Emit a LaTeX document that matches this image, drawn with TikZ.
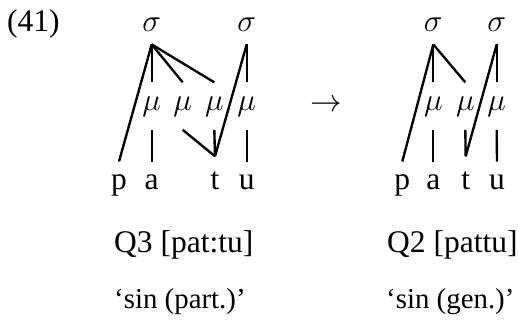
\documentclass[tikz,border=0pt,12pt]{standalone}
\usepackage{fontspec}
\setmainfont{Liberation Serif}
\usetikzlibrary{positioning}

\begin{document}
\begin{tikzpicture}[x=0.381pt, y=-0.381pt, line width=0.9pt,
    syll/.style={anchor=base, inner sep=0pt, text depth=0pt, inner ysep=4.4pt},
    mora/.style={anchor=base, inner sep=0pt, text height=10.2pt, text depth=7pt},
    seg/.style={anchor=base, inner sep=0pt, text height=10.4pt, text depth=0pt},
    lbl/.style={anchor=base west, inner sep=0pt},
    gloss/.style={lbl, font=\fontsize{11pt}{13pt}\selectfont}]
    \useasboundingbox (0,0) rectangle (518,324);

    \node[lbl] (num) at (6,31.7) {(41)};

    % left: Q3 [pat:tu]
    \node[syll] (s1) at (151.7,31.7) {$\sigma$};
    \node[syll] (s2) at (246.7,31.7) {$\sigma$};
    \node[mora] (m1) at (151.7,110.3) {$\mu$};
    \node[mora] (m2) at (182.7,110.3) {$\mu$};
    \node[mora] (m3) at (214.3,110.3) {$\mu$};
    \node[mora] (m4) at (246.7,110.3) {$\mu$};
    \node[seg] (p) at (119,190) {p};
    \node[seg] (a) at (151.7,190) {a};
    \node[seg] (t) at (215,190) {t};
    \node[seg] (u) at (246.7,190) {u};
    \coordinate (tj) at ([yshift=2pt]t.north);

    \draw (s1.south) -- (p.north);
    \draw (s1.south) -- (m1.north);
    \draw (s1.south) -- (m2.north);
    \draw (s1.south) -- (m3.north);
    \draw (s2.south) -- (m4.north);
    \draw (s2.south) -- (tj);
    \draw (m1.south) -- (a.north);
    \draw (m2.south) -- (tj);
    \draw (m3.south) -- (tj);
    \draw (m4.south) -- (u.north);

    \node[anchor=base, inner sep=0pt] (arr) at (326,112) {$\rightarrow$};

    % right: Q2 [pattu]
    \node[syll] (rs1) at (433.3,31.7) {$\sigma$};
    \node[syll] (rs2) at (496.7,31.7) {$\sigma$};
    \node[mora] (rm1) at (433.3,110.3) {$\mu$};
    \node[mora] (rm2) at (465.3,110.3) {$\mu$};
    \node[mora] (rm3) at (496.7,110.3) {$\mu$};
    \node[seg] (rp) at (402.3,190) {p};
    \node[seg] (ra) at (433.3,190) {a};
    \node[seg] (rt) at (465.7,190) {t};
    \node[seg] (ru) at (497,190) {u};
    \coordinate (rtj) at ([yshift=2pt]rt.north);

    \draw (rs1.south) -- (rp.north);
    \draw (rs1.south) -- (rm1.north);
    \draw (rs1.south) -- (rm2.north);
    \draw (rs2.south) -- (rm3.north);
    \draw (rs2.south) -- (rtj);
    \draw (rm1.south) -- (ra.north);
    \draw (rm2.south) -- (rtj);
    \draw (rm3.south) -- (ru.north);

    % captions
    \node[lbl] (q3) at (113,253) {Q3 [pat:tu]};
    \node[lbl] (q2) at (386,253) {Q2 [pattu]};
    \node[gloss] (gl) at (113,309) {‘sin (part.)’};
    \node[gloss] (gr) at (385,309) {‘sin (gen.)’};
\end{tikzpicture}
\end{document}
